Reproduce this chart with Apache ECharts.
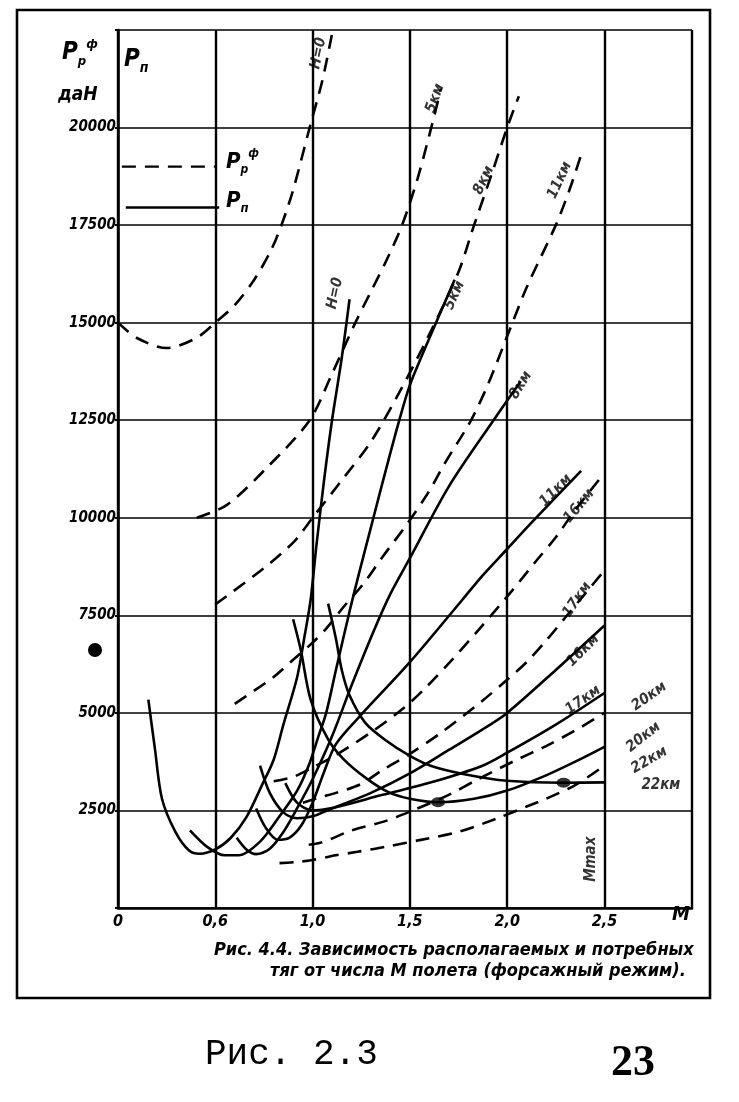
<!DOCTYPE html>
<html><head><meta charset="utf-8">
<script src="https://cdn.jsdelivr.net/npm/echarts@6/dist/echarts.min.js"></script>
<style>html,body{margin:0;padding:0;background:#fff}#c{width:739px;height:1102px}</style>
</head><body><div id="c"></div>
<script>
// ---- tick labels ----
const xTickLabels = ['0','0,6','1,0','1,5','2,0','2,5'];
const yTickLabels = ['','2500','5000','7500','10000','12500','15000','17500','20000',''];

// ---- available thrust (dashed), [M, daN] ----
const Pp_H0  = [[0,15000],[0.1,14600],[0.25,14350],[0.4,14600],[0.5,15000],[0.6,15450],[0.7,16100],[0.785,16840],[0.84,17500],[0.9,18400],[0.985,20000],[1.05,21200],[1.1,22400]];
const Pp_5   = [[0.405,10000],[0.56,10330],[0.78,11360],[0.985,12500],[1.1,13690],[1.22,15000],[1.3,15800],[1.38,16600],[1.46,17500],[1.54,18700],[1.61,20000],[1.66,21000]];
const Pp_8   = [[0.5,7780],[0.75,8710],[0.905,9390],[1.0,10000],[1.146,10935],[1.3,11950],[1.45,13250],[1.6,14700],[1.75,16300],[1.83,17500],[1.92,18800],[2.0,20000],[2.06,20800]];
const Pp_11  = [[0.6,5230],[0.7,5570],[0.8,5920],[0.9,6360],[1.0,6800],[1.07,7160],[1.16,7720],[1.26,8300],[1.36,9000],[1.49,9870],[1.6,10690],[1.68,11400],[1.81,12460],[1.9,13400],[2.0,14650],[2.1,15900],[2.25,17500],[2.32,18400],[2.38,19300]];
const Pp_16  = [[0.8,3250],[0.9,3360],[1.0,3600],[1.12,3920],[1.3,4500],[1.47,5130],[1.59,5690],[1.72,6380],[1.85,7110],[2.02,8100],[2.15,8900],[2.25,9500],[2.35,10200],[2.5,11150]];
const Pp_17  = [[0.95,2700],[1.05,2850],[1.12,2950],[1.25,3180],[1.36,3540],[1.5,3950],[1.66,4490],[1.87,5300],[2.0,5850],[2.1,6300],[2.2,6850],[2.3,7450],[2.4,8050],[2.5,8650]];
const Pp_20  = [[0.98,1620],[1.04,1670],[1.09,1760],[1.2,1990],[1.37,2220],[1.5,2470],[1.7,2900],[1.85,3300],[2.05,3800],[2.2,4150],[2.35,4550],[2.5,5000]];
const Pp_22  = [[0.83,1150],[0.92,1180],[1.0,1230],[1.12,1350],[1.23,1440],[1.4,1590],[1.55,1740],[1.75,1950],[1.95,2300],[2.1,2600],[2.2,2800],[2.35,3150],[2.5,3650]];

// ---- required thrust (solid), [M, daN] ----
const Pn_H0  = [[0.156,5340],[0.19,4070],[0.226,2800],[0.295,1950],[0.364,1480],[0.42,1390],[0.5,1500],[0.58,1800],[0.66,2330],[0.74,3150],[0.8,3800],[0.85,4700],[0.92,5900],[0.96,7000],[0.99,7900],[1.02,9300],[1.06,11000],[1.1,12500],[1.15,14100],[1.19,15600]];
const Pn_5   = [[0.37,1990],[0.46,1560],[0.55,1350],[0.62,1350],[0.73,1700],[0.83,2350],[0.92,3000],[0.98,3650],[1.03,4400],[1.07,5000],[1.12,6100],[1.19,7600],[1.24,8600],[1.31,9950],[1.37,11100],[1.44,12400],[1.5,13400],[1.6,14600],[1.73,16100]];
const Pn_8   = [[0.61,1800],[0.66,1500],[0.71,1380],[0.78,1520],[0.85,1950],[0.92,2550],[1.0,3300],[1.1,4400],[1.2,5700],[1.31,7050],[1.4,8050],[1.5,8965],[1.7,10800],[1.93,12500],[2.07,13500]];
const Pn_11  = [[0.71,2550],[0.76,2050],[0.82,1750],[0.88,1800],[0.94,2100],[1.0,2700],[1.06,3500],[1.12,4200],[1.24,4900],[1.5,6300],[1.77,7900],[1.87,8500],[2.0,9200],[2.13,9900],[2.38,11200]];
const Pn_16  = [[0.73,3650],[0.78,2950],[0.85,2450],[0.92,2300],[1.0,2350],[1.1,2550],[1.3,2950],[1.5,3450],[1.7,4050],[1.87,4566],[2.0,5000],[2.25,6100],[2.5,7240]];
const Pn_17  = [[0.86,3200],[0.92,2700],[1.0,2500],[1.1,2560],[1.36,2900],[1.61,3220],[1.87,3640],[2.0,3980],[2.25,4700],[2.5,5510]];
const Pn_20  = [[0.9,7400],[0.94,6600],[0.99,5340],[1.08,4320],[1.16,3810],[1.28,3310],[1.39,2970],[1.5,2800],[1.645,2710],[1.83,2800],[2.0,3010],[2.2,3400],[2.35,3750],[2.5,4130]];
const Pn_22  = [[1.08,7800],[1.12,6900],[1.15,6100],[1.19,5450],[1.27,4750],[1.37,4320],[1.5,3900],[1.61,3640],[1.78,3430],[2.0,3260],[2.29,3210],[2.5,3220]];

const dots = [[1.645,2710],[2.29,3210]];

// legend sample lines (in data units)
const legendDash  = [[0.02,19000],[0.5,19000]];
const legendSolid = [[0.04,17950],[0.52,17950]];

// curve labels
const labelTexts = ['H=0','5км','8км','11км','H=0','5км','8км','11км','16км','17км','16км','17км','20км','20км','22км','22км','Mmax'];
const labelPos   = [[1.03,21900],[1.63,20750],[1.88,18650],[2.27,18650],[1.115,15750],[1.73,15700],[2.07,13400],[2.25,10700],[2.37,10300],[2.36,7900],[2.39,6600],[2.39,5330],[2.73,5420],[2.70,4380],[2.73,3790],[2.79,3150],[2.43,1250]];
const labelRot   = [78,70,65,65,78,65,58,45,50,55,45,35,35,38,30,0,90];

const FONT = 'DejaVu Sans Condensed, DejaVu Sans, sans-serif';

const dashedSets = [Pp_H0,Pp_5,Pp_8,Pp_11,Pp_16,Pp_17,Pp_20,Pp_22];
const solidSets  = [Pn_H0,Pn_5,Pn_8,Pn_11,Pn_16,Pn_17,Pn_20,Pn_22];

const series = [];
dashedSets.forEach(d => series.push({
  type:'line', data:d, smooth:0.3, showSymbol:false, silent:true,
  lineStyle:{color:'#000', width:2.6, type:[14,9]}
}));
solidSets.forEach(d => series.push({
  type:'line', data:d, smooth:0.3, showSymbol:false, silent:true,
  lineStyle:{color:'#000', width:2.6, type:'solid'}
}));
series.push({type:'line', data:legendDash, showSymbol:false, lineStyle:{color:'#000',width:2.4,type:[14,9]}});
series.push({type:'line', data:legendSolid, showSymbol:false, lineStyle:{color:'#000',width:2.4}});
series.push({type:'scatter', data:dots, symbolSize:[14,10], itemStyle:{color:'#000'}, silent:true, z:5});
series.push({
  type:'scatter', symbolSize:1, itemStyle:{color:'rgba(0,0,0,0)'}, silent:true, z:6,
  data: labelTexts.map((t,i)=>({value:labelPos[i], name:t, label:{rotate:labelRot[i]}})),
  label:{show:true, position:'inside', formatter:'{b}', color:'#000',
    fontFamily:FONT, fontWeight:'bold', fontStyle:'italic', fontSize:15}
});

const chart = echarts.init(document.getElementById('c'), null, {renderer:'canvas'});
chart.setOption({
  backgroundColor:'#fff',
  animation:false,
  grid:{left:118, top:30, width:574, height:878},
  xAxis:{type:'value', min:0, max:2.95, interval:0.5,
    axisLine:{lineStyle:{color:'#000',width:2.6}},
    axisTick:{show:false},
    splitLine:{show:true, lineStyle:{color:'#000',width:2.4}},
    axisLabel:{color:'#000', fontFamily:FONT, fontWeight:'bold', fontStyle:'italic', fontSize:16, margin:6,
      formatter:(v)=>{const i=Math.round(v/0.5); return (Math.abs(v-i*0.5)<1e-6 && i<xTickLabels.length)? xTickLabels[i] : '';}}
  },
  yAxis:{type:'value', min:0, max:22500, interval:2500,
    axisLine:{lineStyle:{color:'#000',width:2.6}},
    axisTick:{show:true, inside:false, length:3, lineStyle:{color:'#000',width:2}},
    splitLine:{show:true, lineStyle:{color:'#000',width:1.6}},
    axisLabel:{color:'#000', fontFamily:FONT, fontWeight:'bold', fontStyle:'italic', fontSize:15, margin:2,
      formatter:(v)=>{const i=Math.round(v/2500); return yTickLabels[i]||'';}}
  },
  series: series,
  graphic:[
    {type:'rect', shape:{x:17,y:10,width:693,height:988}, style:{fill:'none',stroke:'#000',lineWidth:2.6}, silent:true},
    {type:'circle', shape:{cx:95,cy:650,r:7}, style:{fill:'#000'}},
    {type:'text', left:62, top:38, style:{text:'{a|P}{b|р}{c|ф}', fill:'#000',
      rich:{a:{fontSize:24,fontWeight:'bold',fontStyle:'italic',fontFamily:FONT,lineHeight:30},
            b:{fontSize:13,fontWeight:'bold',fontStyle:'italic',fontFamily:FONT,verticalAlign:'bottom'},
            c:{fontSize:13,fontWeight:'bold',fontStyle:'italic',fontFamily:FONT,verticalAlign:'top'}}}},
    {type:'text', left:58, top:86, style:{text:'даН', fill:'#000', font:'italic bold 19px '+FONT}},
    {type:'text', left:124, top:48, style:{text:'{a|P}{b|п}', fill:'#000',
      rich:{a:{fontSize:24,fontWeight:'bold',fontStyle:'italic',fontFamily:FONT,lineHeight:30},
            b:{fontSize:14,fontWeight:'bold',fontStyle:'italic',fontFamily:FONT,verticalAlign:'bottom'}}}},
    {type:'text', left:226, top:148, style:{text:'{a|P}{b|р}{c|ф}', fill:'#000',
      rich:{a:{fontSize:22,fontWeight:'bold',fontStyle:'italic',fontFamily:FONT,lineHeight:28},
            b:{fontSize:12,fontWeight:'bold',fontStyle:'italic',fontFamily:FONT,verticalAlign:'bottom'},
            c:{fontSize:12,fontWeight:'bold',fontStyle:'italic',fontFamily:FONT,verticalAlign:'top'}}}},
    {type:'text', left:226, top:190, style:{text:'{a|P}{b|п}', fill:'#000',
      rich:{a:{fontSize:22,fontWeight:'bold',fontStyle:'italic',fontFamily:FONT,lineHeight:28},
            b:{fontSize:13,fontWeight:'bold',fontStyle:'italic',fontFamily:FONT,verticalAlign:'bottom'}}}},
    {type:'text', left:672, top:905, style:{text:'M', fill:'#000', font:'italic bold 20px '+FONT}},
    {type:'text', left:214, top:941, style:{text:'Рис. 4.4. Зависимость располагаемых и потребных', fill:'#000', font:'italic bold 18px '+FONT}},
    {type:'text', left:270, top:962, style:{text:'тяг от числа M полета (форсажный режим).', fill:'#000', font:'italic bold 18px '+FONT}},
    {type:'text', left:205, top:1036, style:{text:'Рис. 2.3', fill:'#000', font:'36px Liberation Mono, DejaVu Sans Mono, monospace'}},
    {type:'text', left:611, top:1042, style:{text:'23', fill:'#000', font:'bold 44px Liberation Serif, DejaVu Serif, serif'}}
  ]
});
</script></body></html>
